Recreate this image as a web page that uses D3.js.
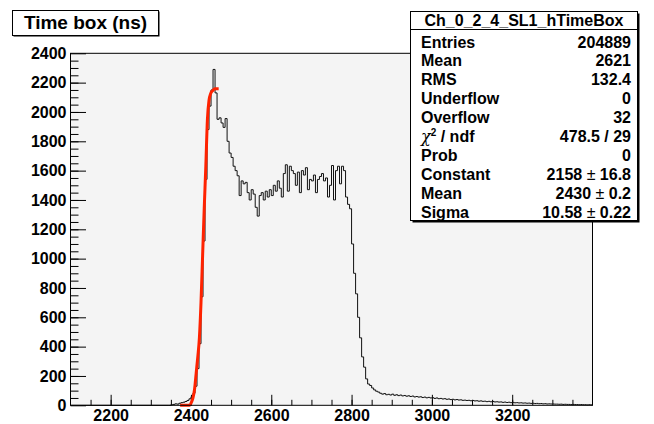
<!DOCTYPE html>
<html>
<head>
<meta charset="utf-8">
<script src="https://cdn.jsdelivr.net/npm/d3@7"></script>
<style>
body { margin: 0; background: #fff; }
svg { display: block; font-family: "Liberation Sans", Arial, Helvetica, sans-serif; }
</style>
</head>
<body>
<svg id="svg"></svg>
<script>
var larghezza = 654;
var altezza = 424;
var frameLeft = 70.5, frameRight = 592.5, frameTop = 53.3, frameBottom = 405.3;

var title = "Time box (ns)";
var histName = "Ch_0_2_4_SL1_hTimeBox";
var xMin = 2100, xMax = 3400, yMax = 2400;

// histogram bins (5 ns), first bin starts at 2345, everything before is empty
var binStart = 2345;
var binWidth = 5;
var counts = [
    0, 4, 6, 10, 8, 14, 18, 21, 26, 33,
    44, 58, 82, 130, 250, 420, 740, 1120, 1540, 1880,
    2040, 2150, 2290, 2130, 1950, 1960, 1925, 1895, 1955, 1800,
    1720, 1690, 1630, 1600, 1565, 1430, 1530, 1510, 1520, 1450,
    1400, 1470, 1440, 1350, 1290, 1430, 1450, 1400, 1460, 1420,
    1470, 1430, 1500, 1460, 1530, 1480, 1420, 1580, 1640, 1460,
    1630, 1600, 1580, 1500, 1590, 1450, 1600, 1570, 1620, 1470,
    1540, 1530, 1570, 1450, 1540, 1560, 1580, 1530, 1550, 1420,
    1500, 1635, 1400, 1600, 1630, 1510, 1630, 1600, 1420, 1370,
    1340, 1100, 900, 760, 600, 460, 330, 260, 180, 145,
    135, 118, 105, 96, 90, 82, 76, 80, 72, 75,
    70, 76, 68, 72, 66, 70, 64, 67, 62, 65,
    60, 63, 57, 60, 56, 58, 53, 56, 51, 54,
    50, 52, 47, 50, 45, 47, 43, 45, 41, 43,
    39, 41, 37, 39, 36, 37, 34, 35, 33, 34,
    31, 33, 30, 31, 28, 30, 27, 28, 25, 27,
    24, 26, 23, 24, 22, 23, 20, 22, 19, 21,
    18, 20, 17, 18, 16, 17, 15, 16, 14, 15,
    13, 14, 12, 13, 11, 12, 10, 11, 9, 10,
    9, 9, 8, 8, 7, 8, 6, 7, 6, 6,
    5, 6, 5, 5, 4, 5, 4, 4, 3, 4,
    3
];

// gaussian fit curve as drawn
var fitX = [2373, 2397, 2401, 2405, 2409, 2413, 2417, 2421, 2425, 2429, 2433, 2437, 2441, 2445, 2449, 2454, 2460, 2469];
var fitY = [0, 0, 20, 50, 110, 220, 330, 460, 700, 1020, 1340, 1630, 1950, 2080, 2125, 2145, 2158, 2158];

var xTicks = [2200, 2400, 2600, 2800, 3000, 3200];
var yTicks = [0, 200, 400, 600, 800, 1000, 1200, 1400, 1600, 1800, 2000, 2200, 2400];

var statLabels = ["Entries", "Mean", "RMS", "Underflow", "Overflow", "chi2", "Prob", "Constant", "Mean", "Sigma"];
var statValues = ["204889", "2621", "132.4", "0", "32", "478.5 / 29", "0", "2158 ± 16.8", "2430 ± 0.2", "10.58 ± 0.22"];


function draw() {
    var svg = d3.select("#svg");
    svg.attr("width", larghezza).attr("height", altezza);

    var x = d3.scaleLinear().domain([xMin, xMax]).range([frameLeft, frameRight]);
    var y = d3.scaleLinear().domain([0, yMax]).range([frameBottom, frameTop]);

    svg.append("rect")
        .attr("x", frameLeft).attr("y", frameTop)
        .attr("width", frameRight - frameLeft).attr("height", frameBottom - frameTop)
        .style("fill", "#f4f4f4");

    drawAxes(svg, x, y);
    drawHist(svg, x, y);
    drawFit(svg, x, y);

    svg.append("rect")
        .attr("x", frameLeft).attr("y", frameTop)
        .attr("width", frameRight - frameLeft).attr("height", frameBottom - frameTop)
        .style("fill", "none").style("stroke", "black").style("stroke-width", "1px");

    drawTitle(svg);
    drawStats(svg);
}

function drawAxes(svg, x, y) {
    var xMinor = d3.range(2150, xMax, 50);
    var yMinor = d3.range(50, yMax, 50);
    var fmt = d3.format("d");

    svg.append("g")
        .attr("transform", "translate(0," + frameBottom + ")")
        .call(d3.axisBottom(x).tickValues(xMinor).tickSize(-5.5).tickSizeOuter(0).tickFormat(""))
        .call(function (g) { g.select(".domain").remove(); });

    svg.append("g")
        .attr("transform", "translate(0," + frameBottom + ")")
        .call(d3.axisBottom(x).tickValues(xTicks).tickSize(-10.5).tickSizeOuter(0).tickPadding(4).tickFormat(fmt))
        .call(function (g) { g.select(".domain").remove(); })
        .selectAll("text")
        .style("font-size", "16px").style("font-weight", "bold").style("fill", "black");

    svg.append("g")
        .attr("transform", "translate(" + frameLeft + ",0)")
        .call(d3.axisLeft(y).tickValues(yMinor).tickSize(-8).tickSizeOuter(0).tickFormat(""))
        .call(function (g) { g.select(".domain").remove(); });

    svg.append("g")
        .attr("transform", "translate(" + frameLeft + ",0)")
        .call(d3.axisLeft(y).tickValues(yTicks).tickSize(-15.5).tickSizeOuter(0).tickPadding(4).tickFormat(fmt))
        .call(function (g) { g.select(".domain").remove(); })
        .selectAll("text")
        .style("font-size", "16px").style("font-weight", "bold").style("fill", "black");

    svg.selectAll(".tick line").style("stroke", "black");
}

function drawHist(svg, x, y) {
    var pts = [[xMin, 0], [binStart, 0]];
    counts.forEach(function (c, i) {
        pts.push([binStart + i * binWidth, c]);
    });
    pts.push([binStart + counts.length * binWidth, counts[counts.length - 1]]);

    var line = d3.line()
        .x(function (d) { return x(d[0]); })
        .y(function (d) { return y(d[1]); })
        .curve(d3.curveStepAfter);

    svg.append("path")
        .attr("d", line(pts))
        .style("fill", "none")
        .style("stroke", "#111")
        .style("stroke-width", "1px");
}

function drawFit(svg, x, y) {
    var pts = fitX.map(function (v, i) { return [v, fitY[i]]; });
    var line = d3.line()
        .x(function (d) { return x(d[0]); })
        .y(function (d) { return y(d[1]); })
        .curve(d3.curveMonotoneX);

    svg.append("path")
        .attr("d", line(pts))
        .style("fill", "none")
        .style("stroke", "#ff2200")
        .style("stroke-width", "3px")
        .style("stroke-linejoin", "round");
}

function drawTitle(svg) {
    svg.append("rect")
        .attr("x", 13.5).attr("y", 11.5).attr("width", 146).attr("height", 25)
        .style("fill", "black");
    svg.append("rect")
        .attr("x", 12.5).attr("y", 10.5).attr("width", 146).attr("height", 25)
        .style("fill", "white").style("stroke", "black").style("stroke-width", "1px");
    svg.append("text")
        .attr("x", 85.5).attr("y", 29)
        .attr("text-anchor", "middle")
        .style("font-size", "19px").style("font-weight", "bold")
        .text(title);
}

function drawStats(svg) {
    var bx = 410.5, by = 11.5, bw = 227, bh = 209;

    svg.append("rect")
        .attr("x", bx + 2).attr("y", by + 2).attr("width", bw).attr("height", bh)
        .style("fill", "black");
    svg.append("rect")
        .attr("x", bx).attr("y", by).attr("width", bw).attr("height", bh)
        .style("fill", "white").style("stroke", "black").style("stroke-width", "1px");
    svg.append("line")
        .attr("x1", bx).attr("x2", bx + bw).attr("y1", 29.5).attr("y2", 29.5)
        .style("stroke", "black").style("stroke-width", "1px");

    svg.append("text")
        .attr("x", bx + bw / 2).attr("y", 26)
        .attr("text-anchor", "middle")
        .style("font-size", "16px").style("font-weight", "bold")
        .text(histName);

    statLabels.forEach(function (lab, i) {
        var yy = 47.5 + i * 18.9;
        var t = svg.append("text")
            .attr("x", 421).attr("y", yy)
            .style("font-size", "16px").style("font-weight", "bold");
        if (lab === "chi2") {
            t.append("tspan").style("font-weight", "normal").style("font-family", "'DejaVu Serif', serif").style("font-style", "italic").text("χ");
            t.append("tspan").attr("dy", -6).style("font-size", "10px").text("2");
            t.append("tspan").attr("dy", 6).text(" / ndf");
        } else {
            t.text(lab);
        }

        var v = svg.append("text")
            .attr("x", 631).attr("y", yy)
            .attr("text-anchor", "end")
            .style("font-size", "16px").style("font-weight", "bold");
        var parts = statValues[i].split("±");
        if (parts.length === 2) {
            v.append("tspan").text(parts[0]);
            v.append("tspan").style("font-weight", "normal").text("±");
            v.append("tspan").text(parts[1]);
        } else {
            v.text(statValues[i]);
        }
    });
}

draw();
</script>
</body>
</html>
